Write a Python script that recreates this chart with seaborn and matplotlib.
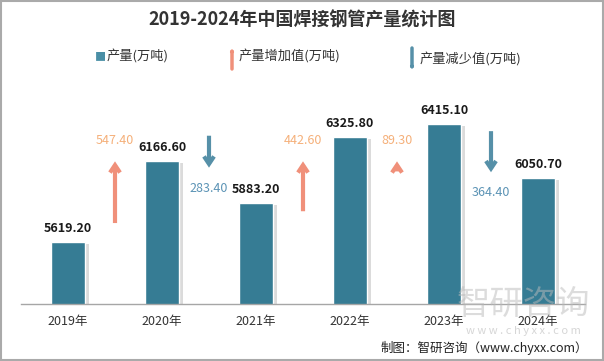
import matplotlib
matplotlib.use("Agg")
import matplotlib.pyplot as plt
import matplotlib.patheffects as pe
import seaborn as sns
import pandas as pd
import numpy as np

years = ["2019年", "2020年", "2021年", "2022年", "2023年", "2024年"]
production = [5619.20, 6166.60, 5883.20, 6325.80, 6415.10, 6050.70]

title = "2019-2024年中国焊接钢管产量统计图"
legend_labels = ["产量(万吨)", "产量增加值(万吨)", "产量减少值(万吨)"]
source = "制图：智研咨询（www.chyxx.com）"

BAR = "#367C94"
UP = "#F0907A"
UP_TXT = "#F5B07A"
DOWN = "#5690A8"
DOWN_TXT = "#5B93B5"

sns.set_theme(style="white")
plt.rcParams["font.family"] = ["Noto Sans CJK SC", "DejaVu Sans"]

df = pd.DataFrame({"year": years, "value": production})

fig = plt.figure(figsize=(6.04, 3.61), dpi=100)
ax = fig.add_axes([21 / 604, 57 / 361, 564 / 604, 267 / 361])

sns.barplot(data=df, x="year", y="value", color=BAR, width=0.37,
            edgecolor="white", linewidth=1, saturation=1, ax=ax)
for p in ax.patches:
    p.set_path_effects([pe.SimplePatchShadow(offset=(2.5, -1.5), shadow_rgbFace="#999999", alpha=0.35),
                        pe.Normal()])

ax.set_ylim(5200, 7000)
ax.set_xlim(-0.5, 5.5)
ax.set_xlabel("")
ax.set_ylabel("")
ax.set_yticks([])
for s in ["top", "right", "left"]:
    ax.spines[s].set_visible(False)
ax.spines["bottom"].set_color("#A6A6A6")
ax.spines["bottom"].set_linewidth(1)
ax.tick_params(axis="x", which="major", length=0, pad=8, labelsize=9, labelcolor="#333333")
ax.set_xticks(np.arange(-0.5, 6, 1), minor=True)
ax.tick_params(axis="x", which="minor", length=5, color="#A6A6A6", width=1)

for i, v in enumerate(production):
    ax.annotate(f"{v:.2f}", (i, v), xytext=(0, 5), textcoords="offset points",
                ha="center", va="bottom", fontsize=9, fontweight="bold", color="#1a1a1a")

mean_level = float(np.mean(production))
scale = 0.76
astyle = "->,head_length=0.45,head_width=0.3"
for i in range(1, len(production)):
    d = production[i] - production[i - 1]
    x = i - 0.5
    L = abs(d) * scale
    if d > 0:
        head = mean_level + 85
        tail = head - L
        ax.annotate("", xy=(x, head), xytext=(x, tail),
                    arrowprops=dict(arrowstyle=astyle, color=UP, lw=3,
                                    shrinkA=0, shrinkB=0, joinstyle="miter", capstyle="butt"))
        ax.annotate(f"{abs(d):.2f}", (x, head), xytext=(0, 10), textcoords="offset points",
                    ha="center", va="bottom", fontsize=9, color=UP_TXT)
    else:
        centre = mean_level + 150
        tail = centre + L / 2
        head = centre - L / 2
        ax.annotate("", xy=(x, head), xytext=(x, tail),
                    arrowprops=dict(arrowstyle=astyle, color=DOWN, lw=3,
                                    shrinkA=0, shrinkB=0, joinstyle="miter", capstyle="butt"))
        ax.annotate(f"{abs(d):.2f}", (x, head), xytext=(0, -10), textcoords="offset points",
                    ha="center", va="top", fontsize=9, color=DOWN_TXT)

# title
fig.text(0.5, 1 - 20 / 361, title, ha="center", va="center", fontsize=13,
         fontweight="bold", color="#333333")

# legend
ly = 1 - 57 / 361
fig.text(100 / 604, ly, "■", ha="center", va="center", fontsize=8, color="#4A8FA6")
fig.text(107 / 604, ly, legend_labels[0], ha="left", va="center", fontsize=9.5, color="#333333")
fig.add_artist(matplotlib.patches.FancyArrowPatch((232 / 604, 1 - 69 / 361), (232 / 604, 1 - 48 / 361),
               transform=fig.transFigure, arrowstyle="-|>,head_length=0.4,head_width=0.25",
               color=UP, lw=2.5, shrinkA=0, shrinkB=0))
fig.text(239 / 604, ly, legend_labels[1], ha="left", va="center", fontsize=9.5, color="#333333")
fig.add_artist(matplotlib.patches.FancyArrowPatch((412 / 604, 1 - 48 / 361), (412 / 604, 1 - 70 / 361),
               transform=fig.transFigure, arrowstyle="-|>,head_length=0.4,head_width=0.25",
               color=DOWN, lw=2.5, shrinkA=0, shrinkB=0))
fig.text(420 / 604, 1 - 60 / 361, legend_labels[2], ha="left", va="center", fontsize=9.5, color="#333333")

# watermark
fig.text(523 / 604, 1 - 304 / 361, "智研咨询", ha="center", va="center", fontsize=24,
         color="#BBBBBB", alpha=0.5)
fig.text(523 / 604, 1 - 331 / 361, "w w w . c h y x x . c o m", ha="center", va="center",
         fontsize=8, color="#BBBBBB", alpha=0.6)

# source
fig.text(588 / 604, 1 - 348 / 361, source, ha="right", va="center", fontsize=9, color="#222222")

# border
fig.add_artist(matplotlib.patches.Rectangle((0.001, 0.002), 0.997, 0.995, transform=fig.transFigure,
               fill=False, edgecolor="#AAAAAA", lw=1.5))

fig.savefig("out.png", dpi=100)
